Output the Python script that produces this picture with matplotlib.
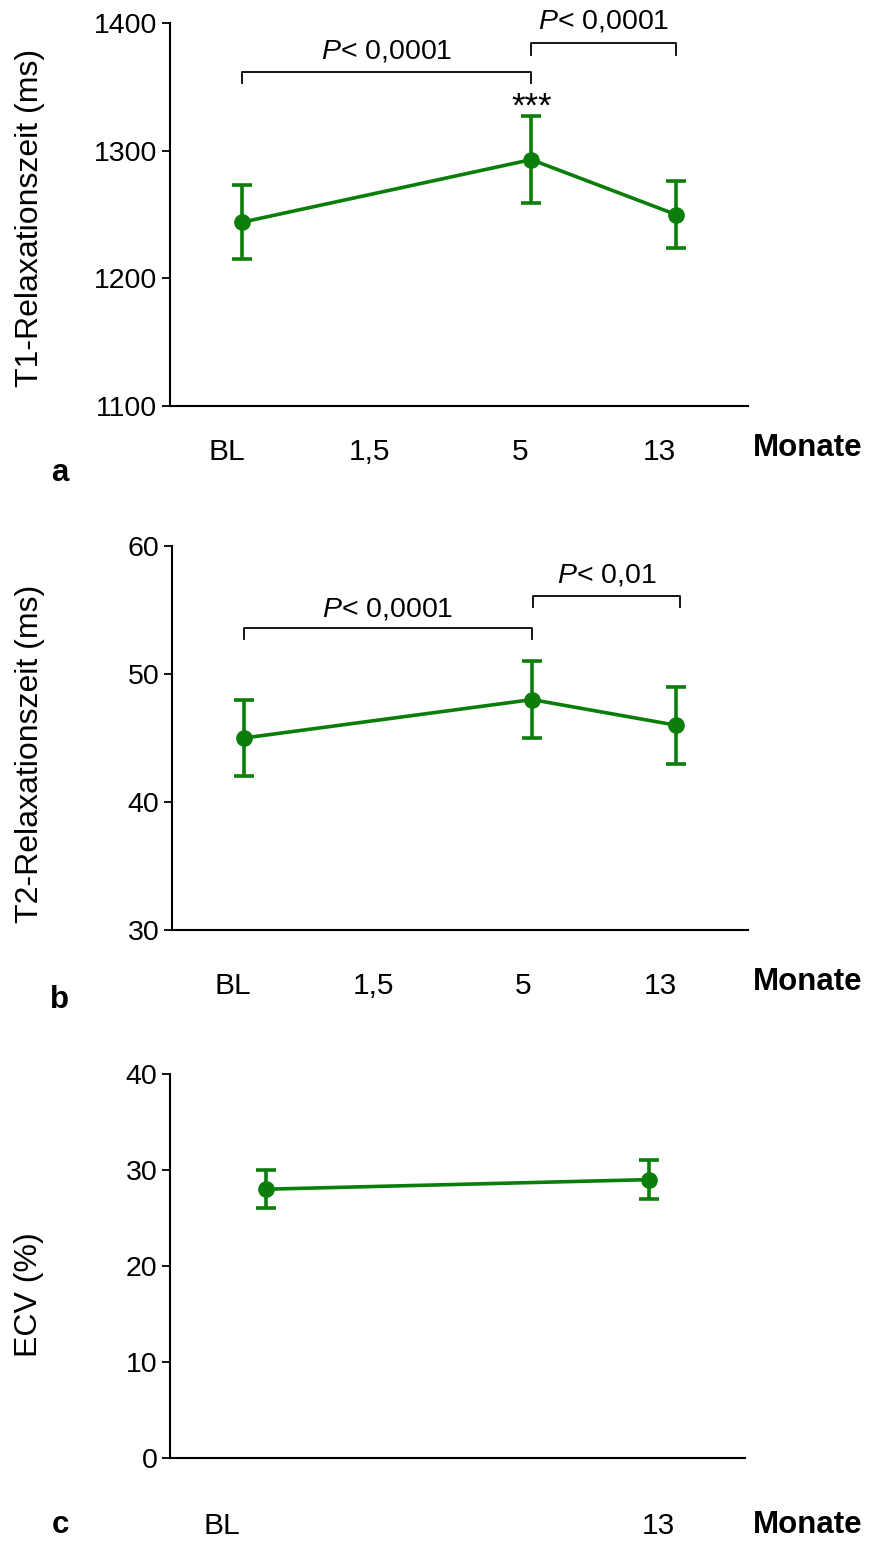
import matplotlib
matplotlib.use("Agg")
import matplotlib.pyplot as plt

plt.rcParams['font.family'] = ['Liberation Sans', 'DejaVu Sans']
plt.rcParams['mathtext.fontset'] = 'custom'
plt.rcParams['mathtext.rm'] = 'Liberation Sans'
plt.rcParams['mathtext.it'] = 'Liberation Sans:italic'

# data
months_abc = ["BL", "1,5", "5", "13"]
months_c = ["BL", "13"]

t1_x = [0, 2, 3]
t1_mean = [1244, 1293, 1250]
t1_low = [1215, 1259, 1224]
t1_high = [1273, 1327, 1276]

t2_x = [0, 2, 3]
t2_mean = [45, 48, 46]
t2_low = [42, 45, 43]
t2_high = [48, 51, 49]

ecv_x = [0, 1]
ecv_mean = [28, 29]
ecv_low = [26, 27]
ecv_high = [30, 31]

GREEN = "#0a7d0a"
W, H = 869, 1541
FS = 20.5
XFS = 21.5
BIG = 22.5


def fx(x):
    return x / W


def fy(y):
    return 1 - y / H


fig = plt.figure(figsize=(W / 100, H / 100), dpi=100)


def make_axes(left, right, top, bottom):
    return fig.add_axes([fx(left), fy(bottom), fx(right) - fx(left), (bottom - top) / H])


def style(ax, ylim, yticks, xlim, xticks, xlabels, pad):
    ax.set_ylim(*ylim)
    ax.set_xlim(*xlim)
    ax.set_yticks(yticks)
    ax.set_yticklabels([str(t) for t in yticks], fontsize=FS)
    ax.set_xticks(xticks)
    ax.set_xticklabels(xlabels, fontsize=XFS)
    ax.tick_params(axis='x', length=0, pad=pad)
    ax.tick_params(axis='y', length=6, width=1.3, pad=3)
    for s in ['top', 'right']:
        ax.spines[s].set_visible(False)
    for s in ['left', 'bottom']:
        ax.spines[s].set_linewidth(1.5)


def series(ax, x, m, lo, hi):
    err = [[a - b for a, b in zip(m, lo)], [b - a for a, b in zip(m, hi)]]
    ax.errorbar(x, m, yerr=err, color=GREEN, lw=2.6, marker='o', ms=11,
                capsize=7, capthick=2.6, elinewidth=2.6, clip_on=False, zorder=3)


def bracket(ax, x0, x1, y, drop, label, ty):
    ax.plot([x0, x0, x1, x1], [y - drop, y, y, y - drop], color='black', lw=1.3, clip_on=False)
    ax.text((x0 + x1) / 2, ty, "$P$< " + label, ha='center', va='center', fontsize=FS, clip_on=False)


# panel a
ax1 = make_axes(170, 748, 23, 406)
series(ax1, t1_x, t1_mean, t1_low, t1_high)
style(ax1, (1100, 1400), [1100, 1200, 1300, 1400], (-0.5, 3.5),
      [-0.11, 0.88, 1.92, 2.89], months_abc, 23)
bracket(ax1, 0, 2, 1362, 9, "0,0001", 1378)
bracket(ax1, 2, 3, 1384, 9, "0,0001", 1401)
ax1.text(2, 1334, "***", ha='center', va='center', fontsize=25)
fig.text(fx(30), fy(218), "T1-Relaxationszeit (ms)", rotation=90, fontsize=23,
         ha='center', va='center')

# panel b
ax2 = make_axes(172, 748, 546, 930)
series(ax2, t2_x, t2_mean, t2_low, t2_high)
style(ax2, (30, 60), [30, 40, 50, 60], (-0.5, 3.5),
      [-0.08, 0.9, 1.94, 2.89], months_abc, 30)
bracket(ax2, 0, 2, 53.6, 0.9, "0,0001", 55.0)
bracket(ax2, 2.01, 3.03, 56.1, 0.9, "0,01", 57.7)
fig.text(fx(30), fy(754), "T2-Relaxationszeit (ms)", rotation=90, fontsize=23,
         ha='center', va='center')

# panel c
ax3 = make_axes(170, 745, 1074, 1458)
series(ax3, ecv_x, ecv_mean, ecv_low, ecv_high)
style(ax3, (0, 40), [0, 10, 20, 30, 40], (-0.25, 1.25),
      [-0.115, 1.025], months_c, 39)
fig.text(fx(29), fy(1295), "ECV (%)", rotation=90, fontsize=23,
         ha='center', va='center')

# x-axis unit and panel letters
for y in [448, 982, 1525]:
    fig.text(fx(808), fy(y), "Monate", fontsize=BIG, fontweight='bold', ha='center', va='center')
for y, letter in [(473, 'a'), (1000, 'b'), (1525, 'c')]:
    fig.text(fx(60), fy(y), letter, fontsize=BIG, fontweight='bold', ha='center', va='center')

fig.savefig("out.png", dpi=100)
